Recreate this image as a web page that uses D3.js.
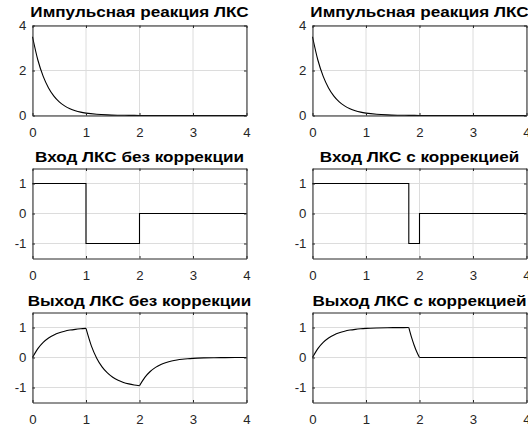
<!DOCTYPE html>
<html>
<head>
<meta charset="utf-8">
<script src="https://cdn.jsdelivr.net/npm/d3@7"></script>
<style>
  html, body { margin: 0; padding: 0; background: #fff; }
  svg { display: block; }
</style>
</head>
<body>
<svg id="fig" width="528" height="432"></svg>
<script>
// Time grid samples (seconds)
const impulseT = [0, 0.1, 0.2, 0.3, 0.4, 0.5, 0.6, 0.7, 0.8, 0.9, 1.0, 1.2, 1.4, 1.6, 1.8, 2.0, 2.5, 3.0, 3.5, 4.0];
const impulseH = [3.5, 2.466, 1.738, 1.225, 0.863, 0.608, 0.429, 0.302, 0.213, 0.150, 0.106, 0.0525, 0.026, 0.013, 0.006, 0.003, 0, 0, 0, 0];

// Input signals (piecewise constant, listed as corner points)
const inputPlainT = [0, 1, 1, 2, 2, 4];
const inputPlainU = [1, 1, -1, -1, 0, 0];
const inputCorrT  = [0, 1.8, 1.8, 2, 2, 4];
const inputCorrU  = [1, 1, -1, -1, 0, 0];

// System outputs
const outputPlainT = [0, 0.1, 0.2, 0.3, 0.4, 0.5, 0.6, 0.7, 0.8, 0.9, 1.0,
                      1.1, 1.2, 1.3, 1.4, 1.5, 1.6, 1.7, 1.8, 1.9, 2.0,
                      2.1, 2.2, 2.3, 2.4, 2.5, 2.6, 2.7, 2.8, 2.9, 3.0, 3.2, 3.4, 3.6, 4.0];
const outputPlainY = [0, 0.295, 0.503, 0.650, 0.753, 0.826, 0.878, 0.914, 0.939, 0.957, 0.970,
                      0.388, -0.022, -0.311, -0.514, -0.658, -0.759, -0.830, -0.880, -0.916, -0.941,
                      -0.663, -0.467, -0.329, -0.232, -0.164, -0.115, -0.081, -0.057, -0.040, -0.028, -0.014, -0.007, -0.003, -0.001];
const outputCorrT = [0, 0.1, 0.2, 0.3, 0.4, 0.5, 0.6, 0.7, 0.8, 0.9, 1.0, 1.2, 1.4, 1.6, 1.8,
                     1.85, 1.9, 1.95, 2.0, 2.5, 3.0, 3.5, 4.0];
const outputCorrY = [0, 0.295, 0.503, 0.650, 0.753, 0.826, 0.878, 0.914, 0.939, 0.957, 0.970, 0.985, 0.993, 0.996, 0.998,
                     0.677, 0.408, 0.182, 0, 0, 0, 0, 0];

// Axis ticks
const xTicks = [0, 1, 2, 3, 4];
const yTicksImpulse = [0, 2, 4];
const yTicksSignal = [-1, 0, 1];

const titles = [
  "Импульсная реакция ЛКС", "Импульсная реакция ЛКС",
  "Вход ЛКС без коррекции", "Вход ЛКС с коррекцией",
  "Выход ЛКС без коррекции", "Выход ЛКС с коррекцией"
];

const zip = (ts, vs) => ts.map((t, i) => ({ t, v: vs[i] }));

// Split a sampled curve at switching instants so corners stay sharp
function splitAt(points, breaks) {
  const pieces = [];
  const edges = [-Infinity, ...breaks, Infinity];
  for (let i = 0; i < edges.length - 1; i++) {
    const seg = points.filter(p => p.t >= edges[i] && p.t <= edges[i + 1]);
    if (seg.length > 1) pieces.push(seg);
  }
  return pieces;
}
const switches = (ts) => Array.from(new Set(ts.filter((t, i) => i > 0 && i < ts.length - 1)));

const panels = [
  { title: titles[0], col: 0, row: 0, domain: [0, 4], yTicks: yTicksImpulse,
    pieces: [zip(impulseT, impulseH)], curve: d3.curveMonotoneX },
  { title: titles[1], col: 1, row: 0, domain: [0, 4], yTicks: yTicksImpulse,
    pieces: [zip(impulseT, impulseH)], curve: d3.curveMonotoneX },
  { title: titles[2], col: 0, row: 1, domain: [-1.5, 1.5], yTicks: yTicksSignal,
    pieces: [zip(inputPlainT, inputPlainU)], curve: d3.curveLinear },
  { title: titles[3], col: 1, row: 1, domain: [-1.5, 1.5], yTicks: yTicksSignal,
    pieces: [zip(inputCorrT, inputCorrU)], curve: d3.curveLinear },
  { title: titles[4], col: 0, row: 2, domain: [-1.5, 1.5], yTicks: yTicksSignal,
    pieces: splitAt(zip(outputPlainT, outputPlainY), switches(inputPlainT)), curve: d3.curveMonotoneX },
  { title: titles[5], col: 1, row: 2, domain: [-1.5, 1.5], yTicks: yTicksSignal,
    pieces: splitAt(zip(outputCorrT, outputCorrY), switches(inputCorrT)), curve: d3.curveMonotoneX }
];

// Figure layout (pixels)
const colX = [[32.5, 246.5], [312.5, 526.5]];
const rowY = [[25.5, 115.5], [168.5, 258.5], [312.5, 402.5]];
const titleY = [17, 162, 306];
const titleStretch = 1.18;  // horizontal glyph stretch of the titles
const tickStretch = 1.1;    // horizontal glyph stretch of tick labels

const axisColor = "#262626";
const gridColor = "#dcdcdc";
const fontFamily = "'Liberation Sans', Arial, sans-serif";
const svg = d3.select("#fig");

panels.forEach(p => {
  const x = d3.scaleLinear().domain([0, 4]).range(colX[p.col]);
  const y = d3.scaleLinear().domain(p.domain).range([rowY[p.row][1], rowY[p.row][0]]);
  const g = svg.append("g");
  const [x0, x1] = x.range();
  const [y0, y1] = [y.range()[1], y.range()[0]];

  // grid
  g.selectAll("line.gx").data(xTicks).join("line")
    .attr("x1", d => x(d)).attr("x2", d => x(d)).attr("y1", y0).attr("y2", y1)
    .attr("stroke", gridColor).attr("stroke-width", 1);
  g.selectAll("line.gy").data(p.yTicks).join("line")
    .attr("x1", x0).attr("x2", x1).attr("y1", d => y(d)).attr("y2", d => y(d))
    .attr("stroke", gridColor).attr("stroke-width", 1);

  // data
  const line = d3.line().x(d => x(d.t)).y(d => y(d.v)).curve(p.curve);
  p.pieces.forEach(seg => {
    g.append("path").attr("d", line(seg))
      .attr("fill", "none").attr("stroke", "#000").attr("stroke-width", 1.1)
      .attr("stroke-linejoin", "miter");
  });

  // axes with inward ticks
  const fmt = d => String(d);
  const xAxis = d3.axisBottom(x).tickValues(xTicks).tickFormat(fmt)
    .tickSizeInner(-2.5).tickSizeOuter(0).tickPadding(13);
  const yAxis = d3.axisLeft(y).tickValues(p.yTicks).tickFormat(fmt)
    .tickSizeInner(-2.5).tickSizeOuter(0).tickPadding(5.5);
  const gx = g.append("g").attr("transform", `translate(0,${y1})`).call(xAxis);
  const gy = g.append("g").attr("transform", `translate(${x0},0)`).call(yAxis);
  const gxTop = g.append("g").attr("transform", `translate(0,${y0})`)
    .call(d3.axisTop(x).tickValues(xTicks).tickSizeInner(-2.5).tickSizeOuter(0).tickFormat(""));
  const gyRight = g.append("g").attr("transform", `translate(${x1},0)`)
    .call(d3.axisRight(y).tickValues(p.yTicks).tickSizeInner(-2.5).tickSizeOuter(0).tickFormat(""));
  [gx, gy, gxTop, gyRight].forEach(a => {
    a.select(".domain").attr("stroke", axisColor).attr("stroke-width", 1);
    a.selectAll(".tick line").attr("stroke", axisColor);
    a.selectAll("text").attr("fill", axisColor)
      .attr("transform", `scale(${tickStretch},1)`)
      .style("font-family", fontFamily).style("font-size", "12px");
  });

  // title
  g.append("text").text(p.title)
    .attr("transform", `translate(${(x0 + x1) / 2},${titleY[p.row]}) scale(${titleStretch},1)`)
    .attr("text-anchor", "middle")
    .style("font-family", fontFamily)
    .style("font-weight", "bold").style("font-size", "14.5px")
    .attr("fill", "#000");
});
</script>
</body>
</html>
